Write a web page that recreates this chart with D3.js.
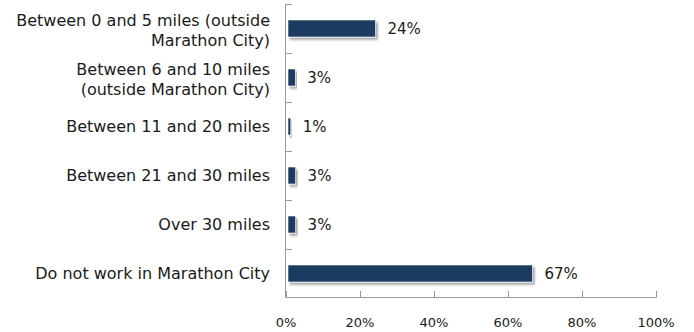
<!DOCTYPE html>
<html><head><meta charset="utf-8">
<script src="https://cdn.jsdelivr.net/npm/d3@7"></script>
<style>body{margin:0;background:#fff}svg{display:block}text{font-family:"DejaVu Sans",sans-serif;fill:#1a1a1a}</style>
</head><body><svg id="c" width="694" height="332"></svg>
<script>
const categories = [
  ["Between 0 and 5 miles (outside", "Marathon City)"],
  ["Between 6 and 10 miles", "(outside Marathon City)"],
  ["Between 11 and 20 miles"],
  ["Between 21 and 30 miles"],
  ["Over 30 miles"],
  ["Do not work in Marathon City"]
];
const values = [24.2, 2.5, 1.3, 2.6, 2.6, 66.6];
const valueLabels = ["24%", "3%", "1%", "3%", "3%", "67%"];
const xTicks = [0, 20, 40, 60, 80, 100];

const svg = d3.select("#c");
const x = d3.scaleLinear().domain([0, 100]).range([286, 656]);
const y = d3.scaleBand().domain(d3.range(categories.length)).range([4, 298]);

const defs = svg.append("defs");
const f = defs.append("filter").attr("id","sh").attr("x","-10%").attr("y","-30%").attr("width","130%").attr("height","190%");
f.append("feDropShadow").attr("dx",2).attr("dy",2.5).attr("stdDeviation",1.3).attr("flood-color","#000").attr("flood-opacity",0.35);

const axisColor = "#9a9a9a";
svg.append("line").attr("x1",285.5).attr("x2",285.5).attr("y1",4).attr("y2",297.5).attr("stroke",axisColor);
d3.range(categories.length).forEach(i => {
  const yy = Math.round(4 + i * y.step()) + 0.5;
  svg.append("line").attr("x1",285.5).attr("x2",292).attr("y1",yy).attr("y2",yy).attr("stroke",axisColor);
});
svg.append("line").attr("x1",285.5).attr("x2",656.5).attr("y1",297.5).attr("y2",297.5).attr("stroke",axisColor);
xTicks.forEach(t => {
  const xx = Math.round(x(t)) + 0.5;
  svg.append("line").attr("x1",xx).attr("x2",xx).attr("y1",297.5).attr("y2",291).attr("stroke",axisColor);
  svg.append("text").attr("x",x(t)).attr("y",327).attr("text-anchor","middle").attr("font-size",13).text(t + "%");
});

const barH = 17;
values.forEach((v, i) => {
  const cy = y(i) + y.bandwidth() / 2;
  svg.append("rect").attr("x", x(0) + 2).attr("y", cy - barH/2).attr("width", x(v) - x(0) - 2).attr("height", barH)
    .attr("fill","#1b3a60").attr("stroke","#ffffff").attr("stroke-width",0.6).attr("filter","url(#sh)");
  svg.append("text").attr("x", x(v) + 12).attr("y", cy + 5.5).attr("font-size",15).text(valueLabels[i]);
  const lines = categories[i];
  const lh = 20;
  lines.forEach((ln, j) => {
    svg.append("text").attr("x", 270).attr("y", cy + 5.5 + (j - (lines.length - 1) / 2) * lh + (lines.length>1?2:0))
      .attr("text-anchor","end").attr("font-size",16).text(ln);
  });
});
</script></body></html>
